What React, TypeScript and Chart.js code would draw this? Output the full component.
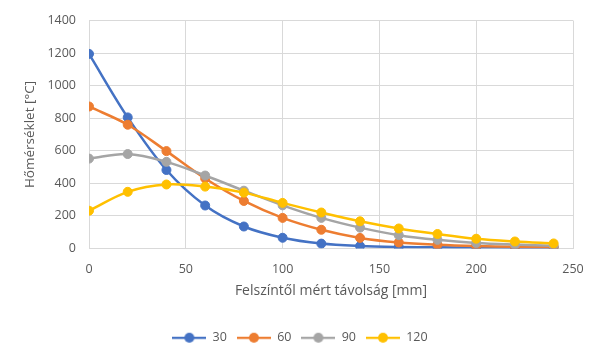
import React, { useEffect, useRef } from "react";
import { Chart, registerables } from "chart.js";

Chart.register(...registerables);

const distances = [0, 20, 40, 60, 80, 100, 120, 140, 160, 180, 200, 220, 240];
const seriesNames = ["30", "60", "90", "120"];
const s30 = [1195, 805, 482, 264, 135, 66, 30, 15, 9, 7, 6, 5, 5];
const s60 = [872, 760, 598, 430, 292, 188, 115, 65, 37, 23, 15, 11, 9];
const s90 = [552, 580, 532, 448, 355, 265, 188, 128, 82, 53, 34, 24, 17];
const s120 = [232, 348, 393, 380, 343, 280, 221, 167, 123, 89, 60, 43, 31];
const colors = ["#4472C4", "#ED7D31", "#A5A5A5", "#FFC000"];
const xTitle = "Felszíntől mért távolság [mm]";
const yTitle = "Hőmérséklet [°C]";

const FONT = "'Open Sans', 'Noto Sans', sans-serif";
const TEXT = "#595959";
const GRID = "#D9D9D9";

function legendIcon(color: string) {
  const c = document.createElement("canvas");
  c.width = 34;
  c.height = 12;
  const ctx = c.getContext("2d")!;
  ctx.strokeStyle = color;
  ctx.lineWidth = 2.25;
  ctx.beginPath();
  ctx.moveTo(0, 6);
  ctx.lineTo(34, 6);
  ctx.stroke();
  ctx.fillStyle = color;
  ctx.beginPath();
  ctx.arc(17, 6, 5, 0, Math.PI * 2);
  ctx.fill();
  return c;
}

export default function App() {
  const ref = useRef<HTMLCanvasElement>(null);
  useEffect(() => {
    document.body.style.margin = "0";
    const all = [s30, s60, s90, s120];
    const datasets = all.map((vals, i) => ({
      label: seriesNames[i],
      data: distances.map((d, j) => ({ x: d, y: vals[j] })),
      borderColor: colors[i],
      backgroundColor: colors[i],
      pointBackgroundColor: colors[i],
      pointBorderColor: colors[i],
      pointRadius: 4.5,
      pointBorderWidth: 1,
      borderWidth: 2.5,
      tension: 0.35,
      order: 4 - i,
      pointStyle: "circle",
      yAxisID: "y",
    }));
    const chart = new Chart(ref.current!, {
      type: "line",
      data: { datasets: datasets as any },
      options: {
        animation: false,
        responsive: false,
        maintainAspectRatio: false,
        layout: { padding: { left: 0, right: 0, top: 4, bottom: 4 } },
        plugins: {
          tooltip: { enabled: false },
          legend: {
            position: "bottom",
            labels: {
              color: TEXT,
              font: { family: FONT, size: 12.5 },
              usePointStyle: true,
              pointStyleWidth: 34,
              padding: 10,
              generateLabels: () =>
                seriesNames.map((n, i) => ({
                  text: n,
                  datasetIndex: i,
                  fillStyle: colors[i],
                  strokeStyle: colors[i],
                  fontColor: TEXT,
                  lineWidth: 0,
                  hidden: false,
                  pointStyle: legendIcon(colors[i]),
                })),
            },
          },
        },
        scales: {
          x: {
            type: "linear",
            min: 0,
            max: 250,
            ticks: {
              stepSize: 50,
              color: TEXT,
              font: { family: FONT, size: 12.5 },
              padding: 13,
            },
            grid: { color: GRID, drawTicks: false, lineWidth: 1 },
            border: { color: GRID, width: 1 },
            title: {
              display: true,
              text: xTitle,
              color: TEXT,
              font: { family: FONT, size: 14 },
              padding: { top: 6, bottom: 22 },
            },
            afterFit: (s: any) => {
              s.height = 73;
            },
          },
          y: {
            min: 0,
            max: 1400,
            ticks: {
              stepSize: 200,
              color: TEXT,
              font: { family: FONT, size: 12.5 },
              padding: 13,
              callback: (v: any) => String(v),
            },
            grid: { color: GRID, drawTicks: false, lineWidth: 1 },
            border: { color: GRID, width: 1 },
            title: {
              display: true,
              text: yTitle,
              color: TEXT,
              font: { family: FONT, size: 13.5 },
              padding: { top: 22, bottom: 0 },
            },
            afterFit: (s: any) => {
              s.width = 89;
            },
          },
          yr: {
            position: "right",
            display: true,
            min: 0,
            max: 1400,
            grid: { display: false, drawTicks: false },
            border: { display: false },
            ticks: { display: false },
            afterFit: (s: any) => {
              s.width = 27;
            },
          },
        },
      },
    });
    return () => chart.destroy();
  }, []);
  return <canvas ref={ref} width={600} height={358} style={{ display: "block" }} />;
}
